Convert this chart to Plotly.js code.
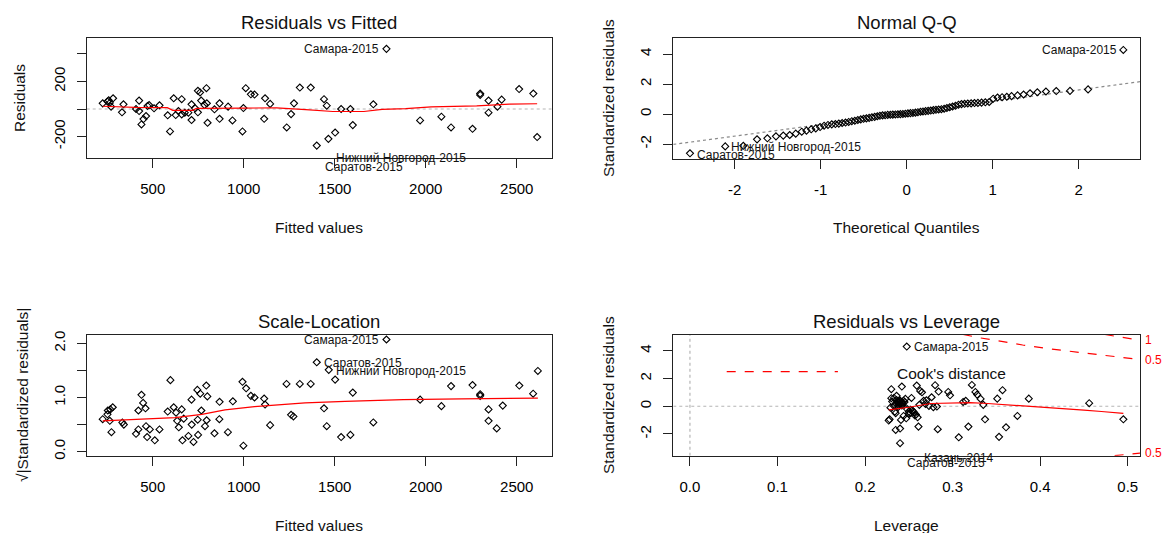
<!DOCTYPE html>
<html><head><meta charset="utf-8">
<script src="https://cdn.plot.ly/plotly-3.0.1.min.js"></script>
<style>html,body{margin:0;padding:0;background:#fff;}#plot{width:1163px;height:533px;}</style>
</head><body><div id="plot"></div>
<script>
// ---------- Panel 1: Residuals vs Fitted ----------
const rvf_fitted = [225,251,258,264,282,271,339,331,425,408,425,471,480,463,449,438,507,537,582,595,615,626,641,659,659,676,696,713,713,733,748,760,748,766,784,795,801,797,839,867,867,914,938,993,998,1011,1039,1059,1117,1112,1145,1236,1260,1276,1308,1368,1401,1441,1456,1465,1502,1535,1586,1599,1712,1784,1969,2086,2139,2257,2299,2299,2345,2345,2394,2417,2513,2591,2612];
const rvf_resid  = [41,54,63,44,78,17,34,-24,61,0,-15,22,29,-51,-73,-112,5,27,-46,-163,78,-44,-15,71,-39,-27,-27,-80,34,5,132,120,-24,61,29,151,-100,41,-2,41,-71,17,-83,-163,7,151,107,105,78,-71,37,-134,-37,41,156,156,-266,71,24,-217,-171,0,0,-117,34,437,-83,-56,-134,-144,112,102,61,-27,17,68,145,112,-204];
const rvf_smooth_x = [225,400,580,610,720,740,1000,1180,1340,1490,1660,1760,1890,2030,2280,2460,2612];
const rvf_smooth_y = [20,12,10,-10,-10,5,7,8,-5,-18,-18,-3,3,15,22,35,38];
const rvf_xticks = [500,1000,1500,2000,2500];
const rvf_yticks = [-200,0,200,400];
const rvf_yticktext = ['-200','','200',''];

// ---------- Panel 2: Normal Q-Q ----------
const qq_theoretical = [-2.52,-2.11,-1.90,-1.74,-1.62,-1.52,-1.435,-1.36,-1.29,-1.22,-1.165,-1.11,-1.057,-1.007,-0.96,-0.915,-0.871,-0.829,-0.789,-0.75,-0.711,-0.674,-0.638,-0.603,-0.568,-0.534,-0.501,-0.468,-0.436,-0.404,-0.372,-0.341,-0.311,-0.28,-0.25,-0.22,-0.19,-0.161,-0.131,-0.102,-0.073,-0.044,-0.015,0.015,0.044,0.073,0.102,0.131,0.161,0.19,0.22,0.25,0.28,0.311,0.341,0.372,0.404,0.436,0.468,0.501,0.534,0.568,0.603,0.638,0.674,0.711,0.75,0.789,0.829,0.871,0.915,0.96,1.007,1.057,1.11,1.165,1.22,1.29,1.36,1.435,1.52,1.62,1.74,1.90,2.11,2.52];
const qq_stdres = [-2.62,-2.16,-2.12,-1.69,-1.62,-1.49,-1.44,-1.40,-1.31,-1.18,-1.11,-1.02,-0.96,-0.87,-0.78,-0.73,-0.69,-0.67,-0.64,-0.60,-0.57,-0.53,-0.48,-0.45,-0.40,-0.36,-0.32,-0.29,-0.26,-0.22,-0.19,-0.15,-0.12,-0.09,-0.08,-0.06,-0.05,-0.04,-0.03,-0.02,-0.01,0.00,0.02,0.04,0.06,0.07,0.09,0.12,0.15,0.17,0.19,0.21,0.23,0.26,0.28,0.30,0.32,0.35,0.40,0.45,0.50,0.55,0.62,0.66,0.68,0.70,0.71,0.73,0.74,0.76,0.78,0.80,1.02,1.10,1.12,1.15,1.19,1.24,1.30,1.38,1.45,1.50,1.53,1.54,1.64,4.27];
const qqline_x = [-2.714, 2.714];
const qqline_y = [-2.025, 2.155];
const qq_xticks = [-2,-1,0,1,2];
const qq_yticks = [-2,0,2,4];

// ---------- Panel 3: Scale-Location ----------
const sl_fitted = [225,251,253,267,280,264,273,333,341,408,421,421,438,447,460,463,469,484,511,537,597,582,615,628,634,643,659,663,670,696,713,714,724,745,747,749,761,767,787,794,800,796,839,867,866,913,940,993,998,1013,1039,1059,1112,1117,1145,1235,1260,1273,1308,1368,1401,1441,1456,1467,1502,1535,1586,1599,1712,1784,1969,2086,2139,2257,2299,2299,2345,2345,2390,2423,2514,2590,2616];
const sl_sqrt_stdres = [0.60,0.69,0.76,0.78,0.82,0.57,0.36,0.54,0.50,0.33,0.41,0.76,1.05,0.90,0.80,0.47,0.27,0.41,0.21,0.41,1.32,0.74,0.82,0.72,0.57,0.45,0.78,0.21,0.61,0.29,0.96,0.50,0.18,1.14,0.59,0.31,1.07,0.76,0.47,1.22,1.02,0.58,0.34,0.92,0.60,0.36,0.93,1.29,0.11,1.17,1.03,1.00,0.98,0.87,0.49,1.25,0.68,0.65,1.25,1.25,1.65,0.80,0.47,1.51,1.33,0.27,0.31,1.09,0.54,2.07,0.96,0.84,1.21,1.23,1.06,1.03,0.78,0.57,0.43,0.85,1.22,1.07,1.49];
const sl_smooth_x = [225,440,623,770,897,1059,1255,1337,1557,1877,2198,2409,2616];
const sl_smooth_y = [0.57,0.60,0.63,0.69,0.77,0.83,0.88,0.90,0.93,0.96,0.975,0.985,0.99];
const sl_yticks = [0,0.5,1,1.5,2];
const sl_yticktext = ['0.0','','1.0','','2.0'];

// ---------- Panel 4: Residuals vs Leverage ----------
const rvl_leverage = [0.2476,0.227,0.228,0.230,0.230,0.231,0.233,0.234,0.235,0.236,0.239,0.240,0.240,0.240,0.241,0.242,0.243,0.244,0.246,0.247,0.250,0.252,0.255,0.257,0.259,0.261,0.263,0.265,0.267,0.269,0.270,0.273,0.276,0.278,0.280,0.282,0.283,0.284,0.295,0.297,0.307,0.312,0.315,0.318,0.322,0.326,0.328,0.332,0.335,0.337,0.351,0.353,0.357,0.361,0.374,0.387,0.456,0.495,0.235,0.237,0.238,0.240,0.241,0.242,0.236,0.239,0.243,0.244,0.238,0.245,0.250,0.252,0.254,0.256,0.248,0.233,0.235,0.229,0.260,0.258,0.253,0.262];
const rvl_stdres = [4.31,-1.03,-0.94,1.23,0.58,0.34,0.02,-0.39,-1.71,0.75,0.17,0.41,-2.67,-1.61,-0.99,1.42,0.26,-0.70,0.53,-0.87,-0.55,-0.26,-0.39,-0.67,1.49,-1.47,1.11,1.01,0.39,0.17,0.43,0.02,0.65,-0.07,1.52,-0.02,-1.66,1.06,1.03,0.79,-2.24,0.31,0.39,-1.47,1.54,1.03,0.84,0.53,0.10,-0.94,0.55,-2.21,1.16,-1.52,-0.70,0.55,0.22,-0.94,0.20,0.30,0.10,0.35,0.22,0.05,0.45,0.28,0.15,0.40,-0.05,0.30,-0.40,-0.50,-0.30,-0.45,-0.20,0.60,-0.50,-0.10,-0.80,-0.60,0.60,0.10];
const rvl_smooth_x = [0.227,0.25,0.275,0.30,0.32,0.34,0.36,0.39,0.42,0.45,0.47,0.495];
const rvl_smooth_y = [-0.26,-0.07,0.20,0.25,0.26,0.20,0.12,0.00,-0.12,-0.28,-0.38,-0.51];
const cook05_lev = [0.312,0.33,0.35,0.38,0.41,0.44,0.47,0.50,0.514];
const cook05_s   = [5.18,4.95,4.75,4.42,4.15,3.90,3.70,3.48,3.38];
const cook1_lev  = [0.474,0.49,0.50,0.514];
const cook1_s    = [5.18,5.00,4.90,4.76];
const cook05low_lev = [0.485,0.50,0.514];
const cook05low_s   = [-3.57,-3.46,-3.38];
const cookleg_lev = [0.042,0.169];
const cookleg_s   = [2.5,2.5];
const rvl_xticks = [0,0.1,0.2,0.3,0.4,0.5];
const rvl_xticktext = ['0.0','0.1','0.2','0.3','0.4','0.5'];
const rvl_yticks = [-2,0,2,4];

// ---------- layout helpers ----------
const W = 1163, H = 533;
const FONT = 'Liberation Sans, Arial, sans-serif';
const INK = '#111';
const px = X => X / W, py = Y => 1 - Y / H;

function xax(x0, x1, range, tickvals, ticktext, anchor) {
  return {domain:[px(x0),px(x1)], range, anchor, tickmode:'array', tickvals, ticktext: ticktext || tickvals.map(String),
    ticks:'outside', ticklen:9, tickwidth:1, tickcolor:'#222', showline:true, mirror:true, linecolor:'#222', linewidth:1,
    showgrid:false, zeroline:false, tickfont:{family:FONT,size:15,color:'#000'}, ticklabelstandoff:8, fixedrange:true};
}
function yax(y0, y1, range, tickvals, ticktext, anchor) {
  return {domain:[py(y1),py(y0)], range, anchor, tickmode:'array', tickvals, ticktext: ticktext || tickvals.map(String),
    ticks:'outside', ticklen:9, tickwidth:1, tickcolor:'#222', showline:true, mirror:true, linecolor:'#222', linewidth:1,
    showgrid:false, zeroline:false, tickangle:-90, tickfont:{family:FONT,size:15,color:'#000'}, ticklabelstandoff:6, fixedrange:true};
}

const pts = (x, y, xa, ya) => ({x, y, xaxis:xa, yaxis:ya, type:'scatter', mode:'markers', hoverinfo:'skip',
  marker:{symbol:'diamond-open', size:5.4, color:'#000', line:{width:1.1, color:'#000'}}});
const line = (x, y, xa, ya, color, dash, width) => ({x, y, xaxis:xa, yaxis:ya, type:'scatter', mode:'lines', hoverinfo:'skip',
  line:{color, dash, width: width || 1}});

const data = [
  line([137,2692],[0,0],'x','y','#b5b5b5','dot',1.2),
  pts(rvf_fitted, rvf_resid, 'x', 'y'),
  line(rvf_smooth_x, rvf_smooth_y, 'x', 'y', '#ff0000', 'solid', 1.2),

  line(qqline_x, qqline_y, 'x2', 'y2', '#8a8a8a', 'dot', 1.2),
  pts(qq_theoretical, qq_stdres, 'x2', 'y2'),

  pts(sl_fitted, sl_sqrt_stdres, 'x3', 'y3'),
  line(sl_smooth_x, sl_smooth_y, 'x3', 'y3', '#ff0000', 'solid', 1.2),

  line([-0.019,0.514],[0,0],'x4','y4','#b5b5b5','dot',1.2),
  line([0,0],[-3.57,5.18],'x4','y4','#b5b5b5','dot',1.2),
  pts(rvl_leverage, rvl_stdres, 'x4', 'y4'),
  line(rvl_smooth_x, rvl_smooth_y, 'x4', 'y4', '#ff0000', 'solid', 1.2),
  line(cook05_lev, cook05_s, 'x4', 'y4', '#ff0000', 'dash', 1.2),
  line(cook1_lev, cook1_s, 'x4', 'y4', '#ff0000', 'dash', 1.2),
  line(cook05low_lev, cook05low_s, 'x4', 'y4', '#ff0000', 'dash', 1.2),
  line(cookleg_lev, cookleg_s, 'x4', 'y4', '#ff0000', 'dash', 1.2)
];

function ptext(text, X, Y, size, angle) {
  return {text, x:px(X), y:py(Y), xref:'paper', yref:'paper', showarrow:false, xanchor:'center', yanchor:'middle',
    textangle: angle || 0, font:{family:FONT, size, color:INK}};
}
function lab(text, x, y, xr, yr, side, xs, ys) {
  return {text, x, y, xref:xr, yref:yr, showarrow:false, xanchor: side, yanchor:'middle', xshift: xs || 0, yshift: ys || 0,
    font:{family:FONT, size:12, color:INK}};
}
function red(text, X, Y) {
  return {text, x:px(X), y:py(Y), xref:'paper', yref:'paper', showarrow:false, xanchor:'left', yanchor:'middle',
    font:{family:FONT, size:12, color:'#ff0000'}};
}

const annotations = [
  ptext('Residuals vs Fitted', 319, 23, 18.5),
  ptext('Normal Q-Q', 906.5, 23, 18.5),
  ptext('Scale-Location', 319, 321.7, 18.5),
  ptext('Residuals vs Leverage', 906.5, 321.7, 18.5),
  ptext('Fitted values', 319, 227, 15.5),
  ptext('Theoretical Quantiles', 906.5, 227, 15.5),
  ptext('Fitted values', 319, 525, 15.5),
  ptext('Leverage', 906.5, 525, 15.5),
  ptext('Residuals', 20, 98, 15.5, -90),
  ptext('Standardized residuals', 609, 98, 15.5, -90),
  ptext('√|Standardized residuals|', 22, 395, 15.5, -90),
  ptext('Standardized residuals', 608, 395, 15.5, -90),

  lab('Самара-2015', 1784, 437, 'x', 'y', 'right', -5, 0),
  lab('Нижний Новгород-2015', 1465, -217, 'x', 'y', 'left', 6, -19),
  lab('Саратов-2015', 1401, -266, 'x', 'y', 'left', 6, -21),

  lab('Самара-2015', 2.52, 4.27, 'x2', 'y2', 'right', -4, 0),
  lab('Нижний Новгород-2015', -2.11, -2.16, 'x2', 'y2', 'left', 4, -1),
  lab('Саратов-2015', -2.52, -2.62, 'x2', 'y2', 'left', 5, -2),

  lab('Самара-2015', 1784, 2.07, 'x3', 'y3', 'right', -5, 0),
  lab('Саратов-2015', 1401, 1.65, 'x3', 'y3', 'left', 5, -1),
  lab('Нижний Новгород-2015', 1467, 1.51, 'x3', 'y3', 'left', 5, -1),

  lab('Самара-2015', 0.2476, 4.31, 'x4', 'y4', 'left', 5, 0),
  lab('Казань-2014', 0.259, -3.5, 'x4', 'y4', 'left', 5, -3),
  lab('Саратов-2015', 0.240, -2.67, 'x4', 'y4', 'left', 5, -20),
  {text:"Cook's distance", x:0.234, y:2.33, xref:'x4', yref:'y4', showarrow:false, xanchor:'left', yanchor:'middle',
    font:{family:FONT, size:15.5, color:INK}},
  red('1', 1143, 340.3),
  red('0.5', 1143, 359.6),
  red('0.5', 1143, 453)
];

const layout = {
  width:W, height:H, margin:{l:0,r:0,t:0,b:0}, paper_bgcolor:'#fff', plot_bgcolor:'#fff', showlegend:false,
  font:{family:FONT, color:INK},
  xaxis:  xax(86.7, 551.7, [137, 2692], rvf_xticks, null, 'y'),
  yaxis:  yax(37.7, 158, [-356, 518], rvf_yticks, rvf_yticktext, 'x'),
  xaxis2: xax(673.3, 1140, [-2.714, 2.714], qq_xticks, null, 'y2'),
  yaxis2: yax(37.7, 159, [-3.0, 5.087], qq_yticks, null, 'x2'),
  xaxis3: xax(86.7, 551.7, [137, 2692], rvf_xticks, null, 'y3'),
  yaxis3: yax(335, 455.7, [-0.074, 2.153], sl_yticks, sl_yticktext, 'x3'),
  xaxis4: xax(673.3, 1140, [-0.019, 0.514], rvl_xticks, rvl_xticktext, 'y4'),
  yaxis4: yax(334.5, 455.7, [-3.57, 5.18], rvl_yticks, null, 'x4'),
  annotations
};

Plotly.newPlot('plot', data, layout, {staticPlot:true, displayModeBar:false});
</script></body></html>
